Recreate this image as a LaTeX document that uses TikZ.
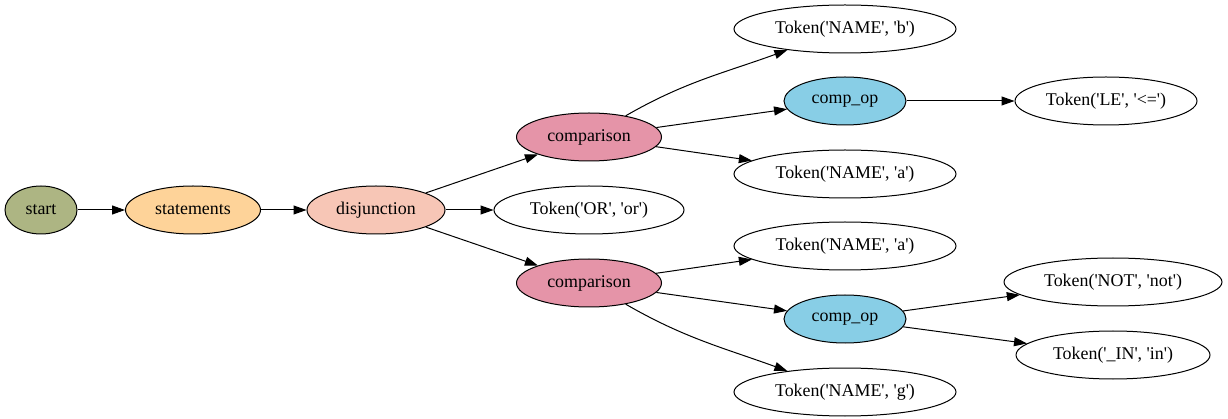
\documentclass[tikz,border=0pt]{standalone}
\usepackage{fontspec}
\newfontfamily\labfont{LiberationSerif}[Extension=.ttf,UprightFont=*-Regular]
\usetikzlibrary{shapes.geometric,arrows.meta}
\definecolor{cstart}{HTML}{ADB583}
\definecolor{cstmts}{HTML}{FED399}
\definecolor{cdisj}{HTML}{F7C6B6}
\definecolor{ccomp}{HTML}{E594A8}
\definecolor{cop}{HTML}{88CEE6}
\begin{document}
\begin{tikzpicture}[x=1pt,y=-1pt,
  nd/.style={ellipse,draw=black,line width=1pt,inner sep=0pt,minimum height=48pt,
    font=\labfont\fontsize{17.9}{20}\selectfont},
  edge/.style={line width=1pt,-{Triangle[length=13pt,width=9pt]}}]
\useasboundingbox (0,0) rectangle (1228,419);
% tree nodes
\node[nd,fill=cstart,minimum width=72pt] (start) at (41,210) {start};
\node[nd,fill=cstmts,minimum width=135pt] (stmts) at (193,210) {statements};
\node[nd,fill=cdisj,minimum width=138pt] (disj) at (376,210) {disjunction};
\node[nd,fill=ccomp,minimum width=145pt] (cmpa) at (589,137) {comparison};
\node[nd,minimum width=190pt] (tor) at (589,210) {Token('OR', 'or')};
\node[nd,fill=ccomp,minimum width=145pt] (cmpb) at (589,283) {comparison};
\node[nd,minimum width=222pt] (nb) at (845,29) {Token('NAME', 'b')};
\node[nd,fill=cop,minimum width=122pt] (opa) at (845,101) {comp\_op};
\node[nd,minimum width=222pt] (naa) at (845,174) {Token('NAME', 'a')};
\node[nd,minimum width=182pt] (tle) at (1106,101) {Token('LE', '<=')};
\node[nd,minimum width=222pt] (nab) at (845,246) {Token('NAME', 'a')};
\node[nd,fill=cop,minimum width=122pt] (opb) at (845,319) {comp\_op};
\node[nd,minimum width=218pt] (tnot) at (1113,282) {Token('NOT', 'not')};
\node[nd,minimum width=194pt] (tin) at (1113,355) {Token('\_IN', 'in')};
\node[nd,minimum width=222pt] (ng) at (845,392) {Token('NAME', 'g')};
% connectors
\draw[edge] (start) -- (stmts);
\draw[edge] (stmts) -- (disj);
\draw[edge] (disj) -- (cmpa);
\draw[edge] (disj) -- (tor);
\draw[edge] (disj) -- (cmpb);
\draw[edge] (cmpa) to[out=30,in=200] (nb);
\draw[edge] (cmpa) -- (opa);
\draw[edge] (cmpa) -- (naa);
\draw[edge] (opa) -- (tle);
\draw[edge] (cmpb) -- (nab);
\draw[edge] (cmpb) -- (opb);
\draw[edge] (cmpb) to[out=-30,in=160] (ng);
\draw[edge] (opb) -- (tnot);
\draw[edge] (opb) -- (tin);
\end{tikzpicture}
\end{document}
